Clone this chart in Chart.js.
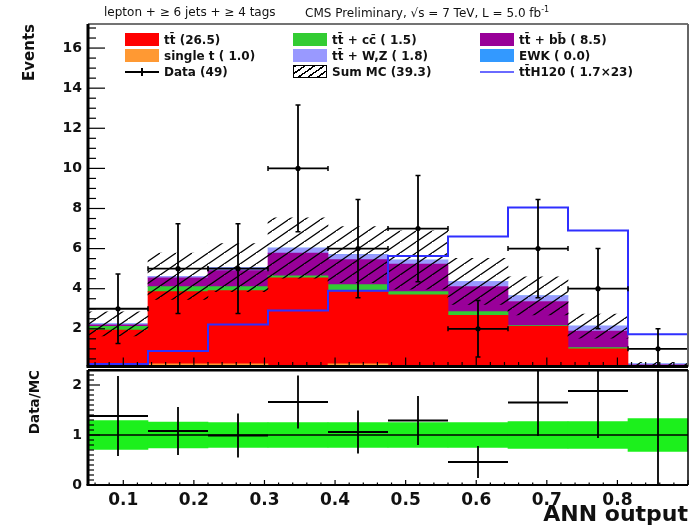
<!DOCTYPE html>
<html>
<head>
<meta charset="utf-8">
<script src="https://cdn.jsdelivr.net/npm/chart.js@4.4.0/dist/chart.umd.min.js"></script>
<style>
  body { margin: 0; background: #fff; width: 694px; height: 528px; position: relative; overflow: hidden;
         font-family: "DejaVu Sans", sans-serif; color: #111; }
  canvas { position: absolute; left: 0; }
  #top { top: 0; }
  #bot { top: 369px; }
  .title { position: absolute; top: 5px; font-size: 12px; white-space: nowrap; }
  .item { position: absolute; font-size: 12px; font-weight: bold; white-space: nowrap; height: 14px; line-height: 14px; }
  .sw { display: inline-block; width: 34px; height: 13px; vertical-align: top; margin-right: 5px; }
  .hatch { box-sizing: border-box; border: 1.5px solid #000;
           background: repeating-linear-gradient(-35deg, #fff 0 4px, #000 4px 5.5px); }
  .ln { position: relative; }
  .ln::before { content: ""; position: absolute; left: 0; right: 0; top: 6px; height: 2px; background: #000; }
  .ln.blue::before { background: #6a6aff; }
  .ln.data::after { content: ""; position: absolute; left: 16px; top: 3px; width: 2px; height: 8px; background: #000; }
</style>
</head>
<body>
<canvas id="top" width="694" height="372"></canvas>
<canvas id="bot" width="694" height="159"></canvas>

<div class="title" style="left:104px">lepton + ≥ 6 jets + ≥ 4 tags</div>
<div class="title" style="left:305px">CMS Preliminary, √s = 7 TeV, L = 5.0 fb<sup style="font-size:8px">-1</sup></div>

<div class="item" style="left:125px; top:33px"><span class="sw" style="background:#ff0000"></span>tt̄ (26.5)</div>
<div class="item" style="left:125px; top:49px"><span class="sw" style="background:#ff9933"></span>single t ( 1.0)</div>
<div class="item" style="left:125px; top:65px"><span class="sw ln data"></span>Data (49)</div>
<div class="item" style="left:293px; top:33px"><span class="sw" style="background:#33cc33"></span>tt̄ + cc̄ ( 1.5)</div>
<div class="item" style="left:293px; top:49px"><span class="sw" style="background:#9999ff"></span>tt̄ + W,Z ( 1.8)</div>
<div class="item" style="left:293px; top:65px"><span class="sw hatch"></span>Sum MC (39.3)</div>
<div class="item" style="left:480px; top:33px"><span class="sw" style="background:#990099"></span>tt̄ + bb̄ ( 8.5)</div>
<div class="item" style="left:480px; top:49px"><span class="sw" style="background:#3399ff"></span>EWK ( 0.0)</div>
<div class="item" style="left:480px; top:65px"><span class="sw ln blue"></span>tt̄H120 ( 1.7×23)</div>

<script>
// binning of the ANN output
const binEdges = [0.05, 0.135, 0.22, 0.305, 0.39, 0.475, 0.56, 0.645, 0.73, 0.815, 0.9];
const binCenters = [0.0925, 0.1775, 0.2625, 0.3475, 0.4325, 0.5175, 0.6025, 0.6875, 0.7725, 0.8575];

// MC stack (bottom to top)
const singleTop = [0.12, 0.25, 0.25, 0.12, 0.25, 0.0, 0.0, 0.0, 0.0, 0.0];
const ttbar     = [1.81, 3.60, 3.65, 4.42, 3.60, 3.70, 2.67, 2.12, 1.00, 0.0];
const ttcc      = [0.19, 0.25, 0.20, 0.10, 0.35, 0.15, 0.19, 0.04, 0.06, 0.0];
const ttbb      = [0.08, 0.44, 0.80, 1.14, 1.25, 1.38, 1.25, 1.20, 0.83, 0.20];
const ttV       = [0.05, 0.08, 0.15, 0.25, 0.25, 0.20, 0.25, 0.28, 0.24, 0.05];
const ewk       = [0, 0, 0, 0, 0, 0, 0, 0, 0, 0];
const sumMcErr  = [0.60, 1.15, 1.20, 1.50, 1.40, 1.45, 1.15, 0.95, 0.60, 0.08];

// data and signal
const dataCounts = [3, 5, 5, 10, 6, 7, 2, 6, 4, 1];
const dataErr    = [1.73, 2.24, 2.24, 3.16, 2.45, 2.65, 1.41, 2.45, 2.0, 1.0];
const tth        = [0.25, 0.89, 2.22, 2.91, 3.90, 5.63, 6.60, 8.05, 6.90, 1.73];

// ratio panel
const ratioVals    = [1.38, 1.08, 0.99, 1.66, 1.06, 1.29, 0.46, 1.65, 1.88, 4.0];
const ratioErr     = [0.80, 0.48, 0.44, 0.53, 0.43, 0.49, 0.32, 0.67, 0.94, 4.0];
const ratioBandErr = [0.29, 0.26, 0.25, 0.25, 0.25, 0.25, 0.25, 0.27, 0.27, 0.33];

// tick labels
const xTickLabels = [0.1, 0.2, 0.3, 0.4, 0.5, 0.6, 0.7, 0.8];
const yTickLabels = [2, 4, 6, 8, 10, 12, 14, 16];
const ratioTickLabels = [0, 1, 2];

const FONT = '"DejaVu Sans", sans-serif';
const mcTotal = binCenters.map((c, i) => singleTop[i] + ttbar[i] + ttcc[i] + ttbb[i] + ttV[i] + ewk[i]);

// hatch pattern for the MC uncertainty
function makeHatch() {
  const c = document.createElement('canvas');
  c.width = 16; c.height = 11;
  const g = c.getContext('2d');
  g.strokeStyle = '#000';
  g.lineWidth = 1.3;
  g.beginPath();
  g.moveTo(-16, 22); g.lineTo(16, 0);
  g.moveTo(0, 22); g.lineTo(32, 0);
  g.moveTo(0, 11); g.lineTo(16, 0);
  g.stroke();
  return g.createPattern(c, 'repeat');
}

function vBars(vals, errs) {
  const pts = [];
  binCenters.forEach((c, i) => {
    pts.push({ x: c, y: vals[i] - errs[i] }, { x: c, y: vals[i] + errs[i] }, { x: c, y: null });
  });
  return pts;
}
function hBars(vals) {
  const pts = [];
  binCenters.forEach((c, i) => {
    pts.push({ x: binEdges[i], y: vals[i] }, { x: binEdges[i + 1], y: vals[i] }, { x: c, y: null });
  });
  return pts;
}

function stackSet(label, vals, color) {
  return {
    type: 'bar', label, yAxisID: 'ys',
    data: binCenters.map((c, i) => ({ x: c, y: vals[i] })),
    backgroundColor: color, borderWidth: 0,
    grouped: false, barPercentage: 1, categoryPercentage: 1
  };
}

// inner ticks + frame, ROOT style
function rootFrame(o) {
  return {
    id: 'rootFrame',
    afterDatasetsDraw(chart) {
      const { ctx, chartArea: a, scales } = chart;
      const ys = scales.y, xs = scales.x;
      ctx.save();
      ctx.strokeStyle = '#000';
      ctx.lineWidth = 1.2;
      for (let k = 0; ; k++) {
        const v = o.yStart + k * o.yMinor;
        if (v > ys.max + 1e-9) break;
        const py = ys.getPixelForValue(v);
        if (py < a.top || py > a.bottom) continue;
        const major = Math.abs(v / o.yMajor - Math.round(v / o.yMajor)) < 1e-6;
        ctx.beginPath();
        ctx.moveTo(a.left, py);
        ctx.lineTo(a.left + (major ? o.yMajorLen : o.yMinorLen), py);
        ctx.stroke();
      }
      for (let k = 0; ; k++) {
        const v = 0.06 + k * 0.02;
        if (v > xs.max + 1e-9) break;
        const px = xs.getPixelForValue(v);
        const major = Math.abs(v * 10 - Math.round(v * 10)) < 1e-6;
        ctx.beginPath();
        ctx.moveTo(px, a.bottom);
        ctx.lineTo(px, a.bottom - (major ? o.xMajorLen : o.xMinorLen));
        ctx.stroke();
      }
      // frame
      ctx.lineWidth = o.topW; ctx.strokeStyle = o.topC;
      ctx.beginPath(); ctx.moveTo(a.left, a.top); ctx.lineTo(a.right, a.top); ctx.stroke();
      ctx.lineWidth = o.rightW; ctx.strokeStyle = o.rightC;
      ctx.beginPath(); ctx.moveTo(a.right, a.top); ctx.lineTo(a.right, a.bottom); ctx.stroke();
      ctx.strokeStyle = '#000';
      ctx.lineWidth = 3;
      ctx.beginPath(); ctx.moveTo(a.left, a.top); ctx.lineTo(a.left, a.bottom); ctx.stroke();
      ctx.lineWidth = o.bottomW;
      ctx.beginPath(); ctx.moveTo(a.left - 1.5, a.bottom); ctx.lineTo(a.right, a.bottom); ctx.stroke();
      ctx.restore();
    }
  };
}

// fixed axis box, no extra label overhang padding
function fixWidth(w) {
  return s => { s.width = w; s.paddingTop = 0; s.paddingBottom = 0; };
}

// ---------- upper panel ----------
const hatch = makeHatch();
new Chart(document.getElementById('top').getContext('2d'), {
  type: 'bar',
  data: {
    datasets: [
      { type: 'line', yAxisID: 'y', showLine: false,
        data: binCenters.map((c, i) => ({ x: c, y: dataCounts[i] })),
        pointRadius: 2.6, pointBackgroundColor: '#000', pointBorderColor: '#000', pointBorderWidth: 0 },
      { type: 'line', yAxisID: 'y', data: vBars(dataCounts, dataErr),
        borderColor: '#000', borderWidth: 1.8, pointStyle: 'line', pointRadius: 2.5,
        pointBorderColor: '#000', pointBorderWidth: 1.5 },
      { type: 'line', yAxisID: 'y', data: hBars(dataCounts),
        borderColor: '#000', borderWidth: 1.8, pointStyle: 'line', pointRotation: 90, pointRadius: 2.5,
        pointBorderColor: '#000', pointBorderWidth: 1.5 },
      { type: 'line', yAxisID: 'y', stepped: 'before',
        data: binEdges.map((e, i) => ({ x: e, y: tth[Math.min(i, tth.length - 1)] })),
        borderColor: '#2f2fff', borderWidth: 2, pointRadius: 0 },
      { type: 'bar', yAxisID: 'y',
        data: binCenters.map((c, i) => ({ x: c, y: [mcTotal[i] - sumMcErr[i], mcTotal[i] + sumMcErr[i]] })),
        backgroundColor: hatch, borderWidth: 0, grouped: false, barPercentage: 1, categoryPercentage: 1 },
      stackSet('single t', singleTop, '#ff9933'),
      stackSet('ttbar', ttbar, '#ff0000'),
      stackSet('tt+cc', ttcc, '#33cc33'),
      stackSet('tt+bb', ttbb, '#990099'),
      stackSet('tt+W,Z', ttV, '#9999ff'),
      stackSet('EWK', ewk, '#3399ff')
    ]
  },
  options: {
    responsive: false,
    animation: false,
    layout: { padding: { top: 24, right: 6, bottom: 3, left: 0 } },
    plugins: { legend: { display: false }, tooltip: { enabled: false } },
    scales: {
      x: { type: 'linear', min: 0.05, max: 0.9, offset: false, display: false,
           afterBuildTicks: s => { s.ticks = xTickLabels.map(v => ({ value: v })); } },
      y: { type: 'linear', min: 0.12, max: 17.2,
           grid: { display: false, drawTicks: false }, border: { display: false },
           afterBuildTicks: s => { s.ticks = yTickLabels.map(v => ({ value: v })); },
           ticks: { font: { family: FONT, size: 14, weight: 'bold' }, color: '#111', padding: 6 },
           title: { display: true, text: 'Events', align: 'end', color: '#111',
                    font: { family: FONT, size: 15, weight: 'bold' }, padding: { top: 21, bottom: 0 } },
           afterFit: fixWidth(88) },
      ys: { type: 'linear', stacked: true, min: 0.12, max: 17.2, display: false }
    }
  },
  plugins: [rootFrame({ yStart: 0.5, yMinor: 0.5, yMajor: 2, yMajorLen: 17, yMinorLen: 8,
                        xMajorLen: 9, xMinorLen: 4.5, topW: 1.5, topC: '#444', rightW: 2, rightC: '#666', bottomW: 3 })]
});

// ---------- ratio panel ----------
new Chart(document.getElementById('bot').getContext('2d'), {
  type: 'bar',
  data: {
    datasets: [
      { type: 'line', yAxisID: 'y', data: vBars(ratioVals, ratioErr),
        borderColor: '#000', borderWidth: 1.8, pointRadius: 0 },
      { type: 'line', yAxisID: 'y', data: hBars(ratioVals),
        borderColor: '#000', borderWidth: 1.8, pointRadius: 0 },
      { type: 'line', yAxisID: 'y',
        data: [{ x: binEdges[0], y: 1 }, { x: binEdges[binEdges.length - 1], y: 1 }],
        borderColor: '#000', borderWidth: 1.5, pointRadius: 0 },
      { type: 'bar', yAxisID: 'y',
        data: binCenters.map((c, i) => ({ x: c, y: [1 - ratioBandErr[i], 1 + ratioBandErr[i]] })),
        backgroundColor: '#1cf01c', borderWidth: 0, grouped: false, barPercentage: 1, categoryPercentage: 1 }
    ]
  },
  options: {
    responsive: false,
    animation: false,
    layout: { padding: { top: 1, right: 6, bottom: 0, left: 0 } },
    plugins: { legend: { display: false }, tooltip: { enabled: false } },
    scales: {
      x: { type: 'linear', min: 0.05, max: 0.9, offset: false,
           grid: { display: false, drawTicks: false }, border: { display: false },
           afterBuildTicks: s => { s.ticks = xTickLabels.map(v => ({ value: v })); },
           ticks: { font: { family: FONT, size: 17, weight: 'bold' }, color: '#111', padding: 5,
                    maxRotation: 0, autoSkip: false, callback: v => v.toFixed(1) },
           title: { display: true, text: 'ANN output', align: 'end', color: '#111',
                    font: { family: FONT, size: 22, weight: 'bold' }, padding: { top: 0, bottom: 0 } },
           afterFit: s => { s.height = 43; s.paddingLeft = 0; s.paddingRight = 0; } },
      y: { type: 'linear', min: 0, max: 2.3,
           grid: { display: false, drawTicks: false }, border: { display: false },
           afterBuildTicks: s => { s.ticks = ratioTickLabels.map(v => ({ value: v })); },
           ticks: { font: { family: FONT, size: 14, weight: 'bold' }, color: '#111', padding: 6 },
           title: { display: true, text: 'Data/MC', align: 'end', color: '#111',
                    font: { family: FONT, size: 13.5, weight: 'bold' }, padding: { top: 27, bottom: 0 } },
           afterFit: fixWidth(88) }
    }
  },
  plugins: [rootFrame({ yStart: 0, yMinor: 0.1, yMajor: 1, yMajorLen: 12, yMinorLen: 6,
                        xMajorLen: 5, xMinorLen: 2.5, topW: 3, topC: '#000', rightW: 1.5, rightC: '#000', bottomW: 2 })]
});
</script>
</body>
</html>
